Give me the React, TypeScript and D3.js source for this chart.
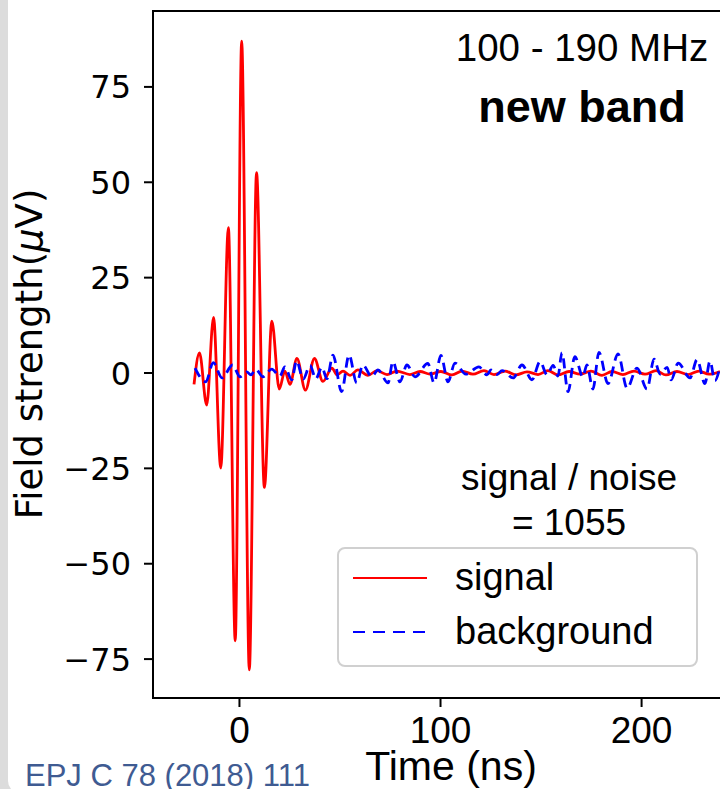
import React from "react";
import * as d3 from "d3";

// ---- data ----
const signalTime = [-22.6,-19.9,-16.3,-12.9,-9.3,-5.5,-2.1,1.1,4.9,8.5,12.4,16.1,19.8,22.6,25.1,28.6,32.8,37.3,41.5,46.0,48.5,51.5,55.0,58.9,63.9,68.4,73.4,78.3,84.8,89.8,94.7,100.2,105.7,110.7,116.1,121.6,126.6,132.1,137.5,143.0,148.5,153.4,158.4,163.9,169.4,174.8,180.3,185.3,190.7,196.2,201.7,207.2,212.1,217.6,223.1,228.5,233.5,239.0];
const signalValue = [-3.0,5.3,-8.4,14.6,-24.9,38.1,-70.2,87.0,-77.8,52.5,-30.0,13.6,-4.2,0.5,-3.0,3.8,-4.5,3.8,-2.2,1.3,-0.5,0.5,-0.6,0.8,-0.6,0.6,-0.4,0.5,-0.4,0.4,-0.3,0.4,-0.5,0.5,-0.3,0.6,-0.4,0.5,-0.5,0.3,-0.4,0.6,-0.5,0.4,-0.3,0.5,-0.6,0.4,-0.4,0.5,-0.3,0.6,-0.5,0.4,-0.4,0.5,-0.3,0.4];

const backgroundTime = [-22.1,-16.8,-13.0,-8.7,-3.4,0.25,3.6,5.7,8.1,11.7,16.0,20.1,22.6,26.0,28.4,31.7,35.1,38.0,41.0,43.5,46.5,50.8,54.5,58.3,61.4,65.8,68.9,73.9,76.3,79.8,83.3,87.3,93.7,96.8,100.2,103.7,107.2,112.6,119.1,123.1,125.1,128.1,130.6,136.1,140.5,145.5,149.5,153.0,156.0,158.4,160.4,163.4,166.8,170.8,172.8,175.8,178.8,183.3,188.3,192.8,197.7,202.7,206.2,209.2,212.7,214.7,218.2,224.1,227.6,231.5,234.0,236.5,239.0];
const backgroundValue = [1.3,-2.3,2.7,-1.3,2.1,-1.0,0.3,-0.5,1.0,-1.0,1.0,-0.8,1.6,-1.8,3.2,-1.6,2.0,-1.5,1.5,-1.5,4.7,-4.9,4.7,-2.6,2.1,-1.0,0.8,-2.6,3.0,-2.3,2.1,-1.0,2.5,-2.6,4.6,-2.3,2.6,-0.3,1.6,-0.5,0.8,-0.4,0.6,-1.3,2.1,-1.8,3.0,-0.5,2.0,-0.8,5.3,-4.9,4.3,-1.0,2.1,-4.2,5.4,-2.8,5.0,-4.0,1.3,-4.2,3.6,-0.3,1.5,-1.8,2.6,-1.3,3.5,-2.8,3.1,-2.0,1.8];

const xTicks = [0, 100, 200];
const yTicks = [-75, -50, -25, 0, 25, 50, 75];
const xDomain = [-43, 239];
const yDomain = [-85.2, 94.9];

const bandLabel = "100 - 190 MHz";
const bandName = "new band";
const snrLabel = "signal / noise";
const snrValue = "= 1055";
const seriesNames = ["signal", "background"];
const citation = "EPJ C 78 (2018) 111";

export default function App() {
  const W = 720, H = 789;
  const left = 153, right = 720, top = 11, bottom = 698;
  const x = d3.scaleLinear().domain(xDomain).range([left, right]);
  const y = d3.scaleLinear().domain(yDomain).range([bottom, top]);

  const line = d3.line<[number, number]>()
    .x(d => x(d[0])).y(d => y(d[1]))
    .curve(d3.curveMonotoneX);

  const sig = line(signalTime.map((t, i) => [t, signalValue[i]] as [number, number])) || "";
  const bg = line(backgroundTime.map((t, i) => [t, backgroundValue[i]] as [number, number])) || "";

  const fmt = (v: number) => (v < 0 ? "\u2212" + Math.abs(v) : String(v));
  const dv = "'DejaVu Sans', sans-serif";
  const ar = "'Liberation Sans', Arial, sans-serif";

  return (
    <div style={{ position: "absolute", left: 0, top: 0 }}>
      <svg width={W} height={H} style={{ display: "block" }}>
        <rect x={0} y={0} width={W} height={H} fill="#dcdcdc" />
        <rect x={8} y={-30} width={W + 40} height={H + 30 + 4} rx={12} fill="#ffffff" />
        <defs>
          <clipPath id="plot">
            <rect x={left} y={top} width={right - left} height={bottom - top} />
          </clipPath>
        </defs>
        <g clipPath="url(#plot)">
          <path d={sig} fill="none" stroke="#ff0000" strokeWidth={2.8} />
          <path d={bg} fill="none" stroke="#0000ff" strokeWidth={2.8} strokeDasharray="10,6" />
        </g>
        {/* spines */}
        <g stroke="#000" strokeWidth={2} fill="none">
          <line x1={left} y1={top} x2={left} y2={bottom} />
          <line x1={left - 1} y1={top} x2={right} y2={top} />
          <line x1={left - 1} y1={bottom} x2={right} y2={bottom} />
        </g>
        {/* y ticks */}
        {yTicks.map(v => (
          <g key={"y" + v}>
            <line x1={left - 9} x2={left} y1={y(v)} y2={y(v)} stroke="#000" strokeWidth={2} />
            <text x={131} y={y(v)} dy="0.36em" textAnchor="end" fontFamily={dv} fontSize={32} fill="#000">{fmt(v)}</text>
          </g>
        ))}
        {/* x ticks */}
        {xTicks.map(v => (
          <g key={"x" + v}>
            <line x1={x(v)} x2={x(v)} y1={bottom} y2={bottom + 9} stroke="#000" strokeWidth={2} />
            <text x={x(v)} y={743} textAnchor="middle" fontFamily={ar} fontSize={37} fill="#000">{fmt(v)}</text>
          </g>
        ))}
        <text x={451} y={780} textAnchor="middle" fontFamily={ar} fontSize={41} fill="#000">Time (ns)</text>
        <text transform="translate(42,354) rotate(-90)" textAnchor="middle" fontFamily={dv} fontSize={37} fill="#000">
          Field strength(<tspan fontStyle="italic">μ</tspan>V)
        </text>
        {/* annotations */}
        <text x={582} y={61} textAnchor="middle" fontFamily={ar} fontSize={38.5} fill="#000">{bandLabel}</text>
        <text x={582} y={122} textAnchor="middle" fontFamily={ar} fontSize={45} fontWeight="bold" fill="#000">{bandName}</text>
        <text x={569} y={490} textAnchor="middle" fontFamily={ar} fontSize={37} fill="#000">{snrLabel}</text>
        <text x={569} y={535} textAnchor="middle" fontFamily={ar} fontSize={37} fill="#000">{snrValue}</text>
        {/* legend */}
        <rect x={338} y={548} width={359} height={118} rx={7} fill="#ffffff" fillOpacity={0.8} stroke="#d0d0d0" strokeWidth={2} />
        <line x1={353} x2={427} y1={578} y2={578} stroke="#ff0000" strokeWidth={2.2} />
        <line x1={353} x2={427} y1={632} y2={632} stroke="#0000ff" strokeWidth={2.2} strokeDasharray="12,8" />
        <text x={455} y={590} fontFamily={ar} fontSize={38} fill="#000">{seriesNames[0]}</text>
        <text x={455} y={644} fontFamily={ar} fontSize={38} fill="#000">{seriesNames[1]}</text>
        <text x={25} y={786} fontFamily={ar} fontSize={31} fill="#3f5b92">{citation}</text>
      </svg>
    </div>
  );
}
